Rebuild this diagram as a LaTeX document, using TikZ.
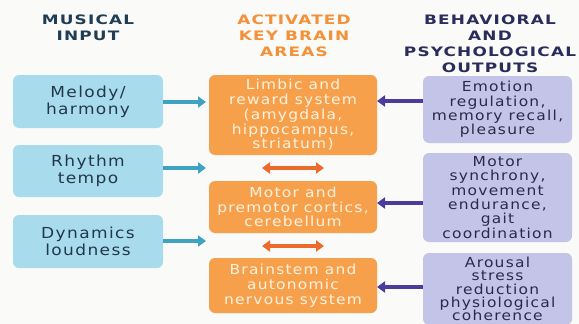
\documentclass[tikz,border=0pt]{standalone}
\usepackage{fontspec}
\setmainfont{DejaVu Sans}[FakeStretch=1.12, LetterSpace=9]
\newfontfamily\headfont{DejaVu Sans Bold}[FakeStretch=1.3, LetterSpace=9]
\usetikzlibrary{arrows.meta}
\definecolor{bgc}{HTML}{FAFAF8}
\definecolor{inFill}{HTML}{A8DCEC}
\definecolor{inText}{HTML}{22384A}
\definecolor{inArrow}{HTML}{3EA2C2}
\definecolor{brFill}{HTML}{F6A04C}
\definecolor{brText}{HTML}{FFF2DF}
\definecolor{brArrow}{HTML}{EC6A2C}
\definecolor{outFill}{HTML}{C4C4E8}
\definecolor{outText}{HTML}{2A2A48}
\definecolor{outArrow}{HTML}{4B3B9C}
\definecolor{hIn}{HTML}{1F3E55}
\definecolor{hBr}{HTML}{F29138}
\definecolor{hOut}{HTML}{2A2D5C}
\tikzset{
  box/.style={rounded corners=6pt, align=center, inner sep=0pt},
  inbox/.style={box, fill=inFill, text=inText, font=\fontsize{15.2}{17}\selectfont},
  brbox/.style={box, fill=brFill, text=brText, font=\fontsize{13.8}{14.8}\selectfont},
  outbox/.style={box, fill=outFill, text=outText, font=\fontsize{13.8}{14.3}\selectfont},
  head/.style={align=center, font=\headfont\fontsize{13}{16.2}\selectfont},
  inarr/.style={draw=inArrow, line width=3.4pt, -{Triangle[length=8pt,width=11pt]}},
  brarr/.style={draw=brArrow, line width=3.4pt, {Triangle[length=8pt,width=11pt]}-{Triangle[length=8pt,width=11pt]}},
  outarr/.style={draw=outArrow, line width=3.4pt, -{Triangle[length=8pt,width=11pt]}},
}
\begin{document}
\begin{tikzpicture}[x=1pt, y=-1pt]
  \useasboundingbox (0,0) rectangle (579,324);
  \clip (0,0) rectangle (579,324);
  \fill[bgc] (0,0) rectangle (579,324);

  % column headings
  \node[head, text=hIn, anchor=north] (hin) at (88,11) {MUSICAL\\INPUT};
  \node[head, text=hBr, anchor=north] (hbr) at (294,11) {ACTIVATED\\KEY BRAIN\\AREAS};
  \node[head, text=hOut, anchor=north] (hout) at (490,11) {BEHAVIORAL\\AND\\PSYCHOLOGICAL\\OUTPUTS};

  % musical input
  \node[inbox, minimum width=150pt, minimum height=53pt] (in1) at (88,101.5) {Melody/\\harmony};
  \node[inbox, minimum width=150pt, minimum height=52pt] (in2) at (88,171) {Rhythm\\tempo};
  \node[inbox, minimum width=150pt, minimum height=53pt] (in3) at (88,241.5) {Dynamics\\loudness};

  % brain areas
  \node[brbox, minimum width=168pt, minimum height=80pt] (br1) at (293,115) {Limbic and\\reward system\\(amygdala,\\hippocampus,\\striatum)};
  \node[brbox, minimum width=168pt, minimum height=52pt] (br2) at (293,207) {Motor and\\premotor cortics,\\cerebellum};
  \node[brbox, minimum width=168pt, minimum height=55pt] (br3) at (293,285.5) {Brainstem and\\autonomic\\nervous system};

  % outputs
  \node[outbox, minimum width=149pt, minimum height=67pt] (out1) at (497.5,109.5) {Emotion\\regulation,\\memory recall,\\pleasure};
  \node[outbox, minimum width=149pt, minimum height=89pt] (out2) at (497.5,197.5) {Motor\\synchrony,\\movement\\endurance,\\gait\\coordination};
  \node[outbox, minimum width=149pt, minimum height=72pt,
        font=\fontsize{13.8}{13.4}\selectfont] (out3) at (497.5,289) {Arousal\\stress\\reduction\\physiological\\coherence};

  % arrow end points
  \coordinate (t1) at (206,102);
  \coordinate (t2) at (206,168);
  \coordinate (t3) at (206,241);
  \coordinate (b1a) at (262,168);
  \coordinate (b1b) at (324,168);
  \coordinate (b2a) at (262,246);
  \coordinate (b2b) at (324,246);
  \coordinate (p1) at (377,101);
  \coordinate (p2) at (377,203);
  \coordinate (p3) at (377,287);

  % input arrows
  \draw[inarr] (in1.east |- t1) -- (t1);
  \draw[inarr] (in2.east |- t2) -- (t2);
  \draw[inarr] (in3.east |- t3) -- (t3);

  % links between brain areas
  \draw[brarr] (b1a) -- (b1b);
  \draw[brarr] (b2a) -- (b2b);

  % output arrows
  \draw[outarr] (out1.west |- p1) -- (p1);
  \draw[outarr] (out2.west |- p2) -- (p2);
  \draw[outarr] (out3.west |- p3) -- (p3);
\end{tikzpicture}
\end{document}
